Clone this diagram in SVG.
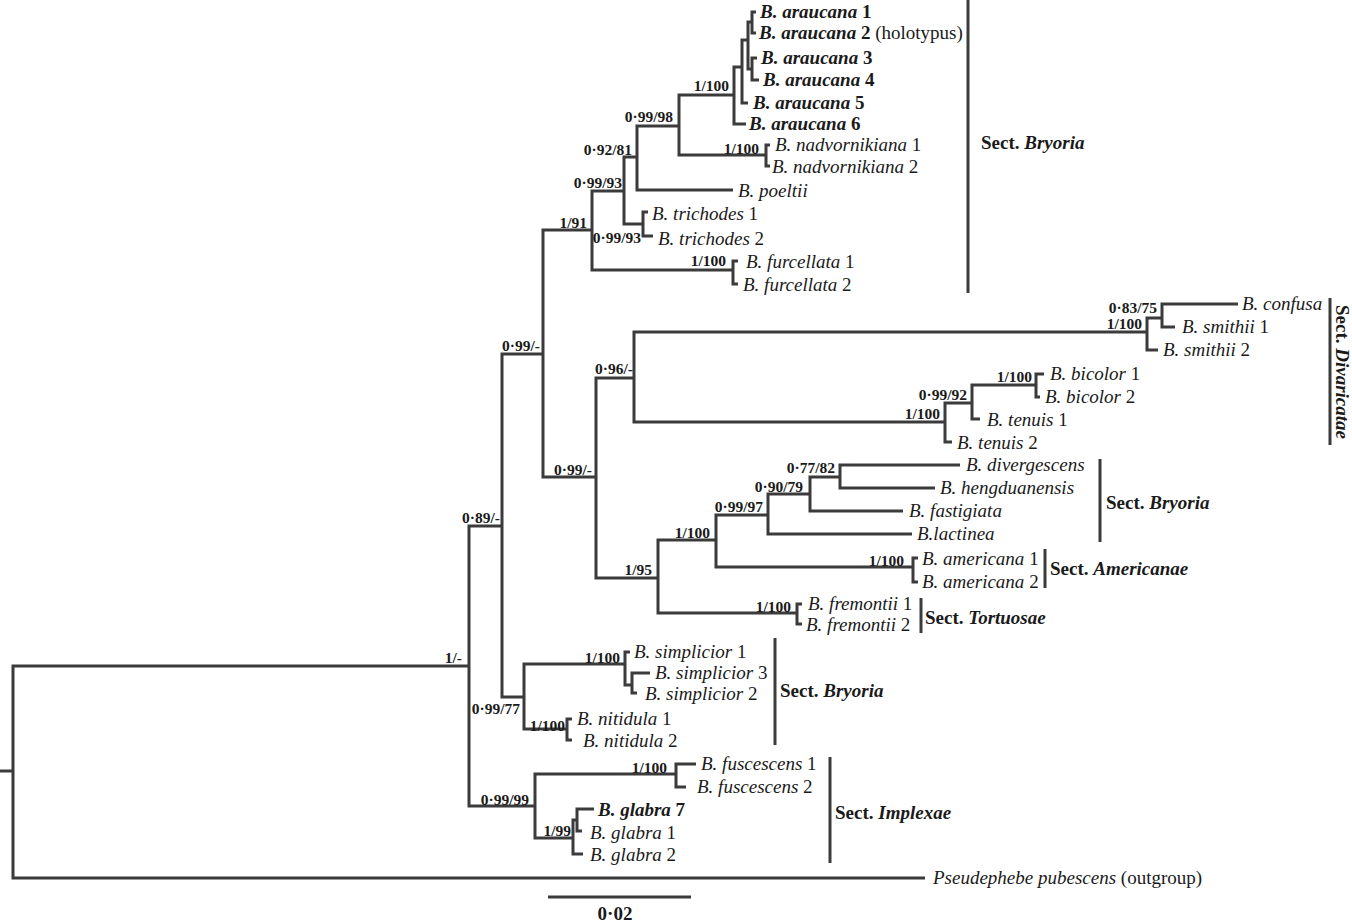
<svg xmlns="http://www.w3.org/2000/svg" width="1352" height="922" viewBox="0 0 1352 922">
<style>
.br{fill:none;stroke:#3b3b3b;stroke-width:3;stroke-linejoin:miter}
.bar{stroke:#3b3b3b;stroke-width:3}
text{font-family:"Liberation Serif","Times New Roman",serif;fill:#1a1a1a}
.t{font-size:19px}
.i{font-style:italic}
.b{font-weight:bold}
.s{font-size:15.5px;font-weight:bold;text-anchor:end}
.sec{font-size:19px;font-weight:bold}
</style>
<rect width="1352" height="922" fill="#ffffff"/>
<g id="connectors" class="br">
<path d="M0,771 H13"/>
<path d="M469,666 H13 V878 H925"/>
<path d="M502,526 H469 V806 H535"/>
<path d="M543,354 H502 V697 H524"/>
<path d="M592,230 H543 V477 H596"/>
<path d="M624,191 H592 V270 H733"/>
<path d="M637,157 H624 V224 H643"/>
<path d="M679,126 H637 V190 H733"/>
<path d="M734,95 H679 V155 H766"/>
<path d="M742,67 H734 V124 H746"/>
<path d="M748,40 H742 V103 H748"/>
<path d="M752,22 H748 V69 H752"/>
<path d="M756,12 H752 V33 H756"/>
<path d="M757,58 H752 V80 H759"/>
<path d="M770,145 H766 V166 H770"/>
<path d="M648,212 H643 V236 H653"/>
<path d="M738,261 H733 V284 H738"/>
<path d="M625,664 H524 V729 H567"/>
<path d="M630,652 H625 V685 H632"/>
<path d="M650,673 H632 V693 H637"/>
<path d="M572,719 H567 V740 H572"/>
<path d="M634,378 H596 V578 H658"/>
<path d="M1147,332 H634 V422 H945"/>
<path d="M1162,318 H1147 V350 H1158"/>
<path d="M1238,304 H1162 V327 H1175"/>
<path d="M972,403 H945 V442 H952"/>
<path d="M1036,385 H972 V419 H980"/>
<path d="M1044,374 H1036 V397 H1040"/>
<path d="M716,540 H658 V613 H797"/>
<path d="M768,515 H716 V567 H913"/>
<path d="M810,494 H768 V534 H912"/>
<path d="M840,477 H810 V511 H903"/>
<path d="M960,465 H840 V488 H935"/>
<path d="M918,558 H913 V582 H918"/>
<path d="M802,604 H797 V624 H802"/>
<path d="M676,774 H535 V838 H573"/>
<path d="M696,764 H676 V787 H686"/>
<path d="M577,820 H573 V854 H583"/>
<path d="M594,809 H577 V831 H582"/>
</g>
<g id="section-bars" class="bar">
<line x1="968" y1="0" x2="968" y2="293"/>
<line x1="1330" y1="298" x2="1330" y2="445"/>
<line x1="1100" y1="459" x2="1100" y2="542"/>
<line x1="1045" y1="549" x2="1045" y2="588"/>
<line x1="921" y1="598" x2="921" y2="633"/>
<line x1="775" y1="638" x2="775" y2="745"/>
<line x1="830" y1="757" x2="830" y2="863"/>
</g>
<g id="scale-bar">
<line class="bar" x1="548" y1="897" x2="691" y2="897"/>
<text class="t b" x="615" y="920" text-anchor="middle">0·02</text>
</g>
<g id="support-labels" class="s">
<text class="s" x="729" y="91">1/100</text>
<text class="s" x="673" y="122">0·99/98</text>
<text class="s" x="632" y="155">0·92/81</text>
<text class="s" x="759" y="154">1/100</text>
<text class="s" x="622" y="188">0·99/93</text>
<text class="s" x="587" y="228">1/91</text>
<text class="s" x="641" y="243">0·99/93</text>
<text class="s" x="726" y="266">1/100</text>
<text class="s" x="540" y="351">0·99/-</text>
<text class="s" x="633" y="374">0·96/-</text>
<text class="s" x="592" y="475">0·99/-</text>
<text class="s" x="500" y="523">0·89/-</text>
<text class="s" x="462" y="663">1/-</text>
<text class="s" x="1157" y="313">0·83/75</text>
<text class="s" x="1142" y="329">1/100</text>
<text class="s" x="1032" y="382">1/100</text>
<text class="s" x="967" y="400">0·99/92</text>
<text class="s" x="940" y="419">1/100</text>
<text class="s" x="835" y="473">0·77/82</text>
<text class="s" x="803" y="492">0·90/79</text>
<text class="s" x="763" y="512">0·99/97</text>
<text class="s" x="710" y="538">1/100</text>
<text class="s" x="904" y="566">1/100</text>
<text class="s" x="652" y="575">1/95</text>
<text class="s" x="791" y="612">1/100</text>
<text class="s" x="620" y="663">1/100</text>
<text class="s" x="520" y="714">0·99/77</text>
<text class="s" x="565" y="731">1/100</text>
<text class="s" x="529" y="805">0·99/99</text>
<text class="s" x="667" y="773">1/100</text>
<text class="s" x="571" y="836">1/99</text>
</g>
<g id="taxon-araucana-1"><text class="t b" x="760" y="18"><tspan class="i">B. araucana</tspan> 1</text></g>
<g id="taxon-araucana-2"><text class="t" x="759" y="39"><tspan class="b i">B. araucana</tspan><tspan class="b"> 2</tspan> (holotypus)</text></g>
<g id="taxon-araucana-3"><text class="t b" x="761" y="64"><tspan class="i">B. araucana</tspan> 3</text></g>
<g id="taxon-araucana-4"><text class="t b" x="763" y="86"><tspan class="i">B. araucana</tspan> 4</text></g>
<g id="taxon-araucana-5"><text class="t b" x="753" y="109"><tspan class="i">B. araucana</tspan> 5</text></g>
<g id="taxon-araucana-6"><text class="t b" x="749" y="130"><tspan class="i">B. araucana</tspan> 6</text></g>
<g id="taxon-nadvornikiana-1"><text class="t" x="775" y="151"><tspan class="i">B. nadvornikiana</tspan> 1</text></g>
<g id="taxon-nadvornikiana-2"><text class="t" x="772" y="173"><tspan class="i">B. nadvornikiana</tspan> 2</text></g>
<g id="taxon-poeltii"><text class="t i" x="738" y="197">B. poeltii</text></g>
<g id="taxon-trichodes-1"><text class="t" x="652" y="220"><tspan class="i">B. trichodes</tspan> 1</text></g>
<g id="taxon-trichodes-2"><text class="t" x="658" y="245"><tspan class="i">B. trichodes</tspan> 2</text></g>
<g id="taxon-furcellata-1"><text class="t" x="746" y="268"><tspan class="i">B. furcellata</tspan> 1</text></g>
<g id="taxon-furcellata-2"><text class="t" x="743" y="291"><tspan class="i">B. furcellata</tspan> 2</text></g>
<g id="taxon-confusa"><text class="t i" x="1242" y="310">B. confusa</text></g>
<g id="taxon-smithii-1"><text class="t" x="1182" y="333"><tspan class="i">B. smithii</tspan> 1</text></g>
<g id="taxon-smithii-2"><text class="t" x="1163" y="356"><tspan class="i">B. smithii</tspan> 2</text></g>
<g id="taxon-bicolor-1"><text class="t" x="1050" y="380"><tspan class="i">B. bicolor</tspan> 1</text></g>
<g id="taxon-bicolor-2"><text class="t" x="1045" y="403"><tspan class="i">B. bicolor</tspan> 2</text></g>
<g id="taxon-tenuis-1"><text class="t" x="987" y="426"><tspan class="i">B. tenuis</tspan> 1</text></g>
<g id="taxon-tenuis-2"><text class="t" x="957" y="449"><tspan class="i">B. tenuis</tspan> 2</text></g>
<g id="taxon-divergescens"><text class="t i" x="966" y="471">B. divergescens</text></g>
<g id="taxon-hengduanensis"><text class="t i" x="940" y="494">B. hengduanensis</text></g>
<g id="taxon-fastigiata"><text class="t i" x="909" y="517">B. fastigiata</text></g>
<g id="taxon-lactinea"><text class="t i" x="917" y="540">B.lactinea</text></g>
<g id="taxon-americana-1"><text class="t" x="922" y="565"><tspan class="i">B. americana</tspan> 1</text></g>
<g id="taxon-americana-2"><text class="t" x="922" y="588"><tspan class="i">B. americana</tspan> 2</text></g>
<g id="taxon-fremontii-1"><text class="t" x="808" y="610"><tspan class="i">B. fremontii</tspan> 1</text></g>
<g id="taxon-fremontii-2"><text class="t" x="806" y="631"><tspan class="i">B. fremontii</tspan> 2</text></g>
<g id="taxon-simplicior-1"><text class="t" x="634" y="658"><tspan class="i">B. simplicior</tspan> 1</text></g>
<g id="taxon-simplicior-3"><text class="t" x="655" y="679"><tspan class="i">B. simplicior</tspan> 3</text></g>
<g id="taxon-simplicior-2"><text class="t" x="645" y="700"><tspan class="i">B. simplicior</tspan> 2</text></g>
<g id="taxon-nitidula-1"><text class="t" x="577" y="725"><tspan class="i">B. nitidula</tspan> 1</text></g>
<g id="taxon-nitidula-2"><text class="t" x="583" y="747"><tspan class="i">B. nitidula</tspan> 2</text></g>
<g id="taxon-fuscescens-1"><text class="t" x="701" y="770"><tspan class="i">B. fuscescens</tspan> 1</text></g>
<g id="taxon-fuscescens-2"><text class="t" x="697" y="793"><tspan class="i">B. fuscescens</tspan> 2</text></g>
<g id="taxon-glabra-7"><text class="t b" x="598" y="816"><tspan class="i">B. glabra</tspan> 7</text></g>
<g id="taxon-glabra-1"><text class="t" x="590" y="839"><tspan class="i">B. glabra</tspan> 1</text></g>
<g id="taxon-glabra-2"><text class="t" x="590" y="861"><tspan class="i">B. glabra</tspan> 2</text></g>
<g id="taxon-pseudephebe"><text class="t" x="933" y="884"><tspan class="i">Pseudephebe pubescens</tspan> (outgroup)</text></g>
<g id="sect-bryoria-top"><text class="sec" x="981" y="149">Sect. <tspan class="i">Bryoria</tspan></text></g>
<g id="sect-divaricatae"><text class="sec" transform="translate(1336,305) rotate(90)">Sect. <tspan class="i">Divaricatae</tspan></text></g>
<g id="sect-bryoria-mid"><text class="sec" x="1106" y="509">Sect. <tspan class="i">Bryoria</tspan></text></g>
<g id="sect-americanae"><text class="sec" x="1050" y="575">Sect. <tspan class="i">Americanae</tspan></text></g>
<g id="sect-tortuosae"><text class="sec" x="925" y="624">Sect. <tspan class="i">Tortuosae</tspan></text></g>
<g id="sect-bryoria-low"><text class="sec" x="780" y="697">Sect. <tspan class="i">Bryoria</tspan></text></g>
<g id="sect-implexae"><text class="sec" x="835" y="819">Sect. <tspan class="i">Implexae</tspan></text></g>
</svg>
